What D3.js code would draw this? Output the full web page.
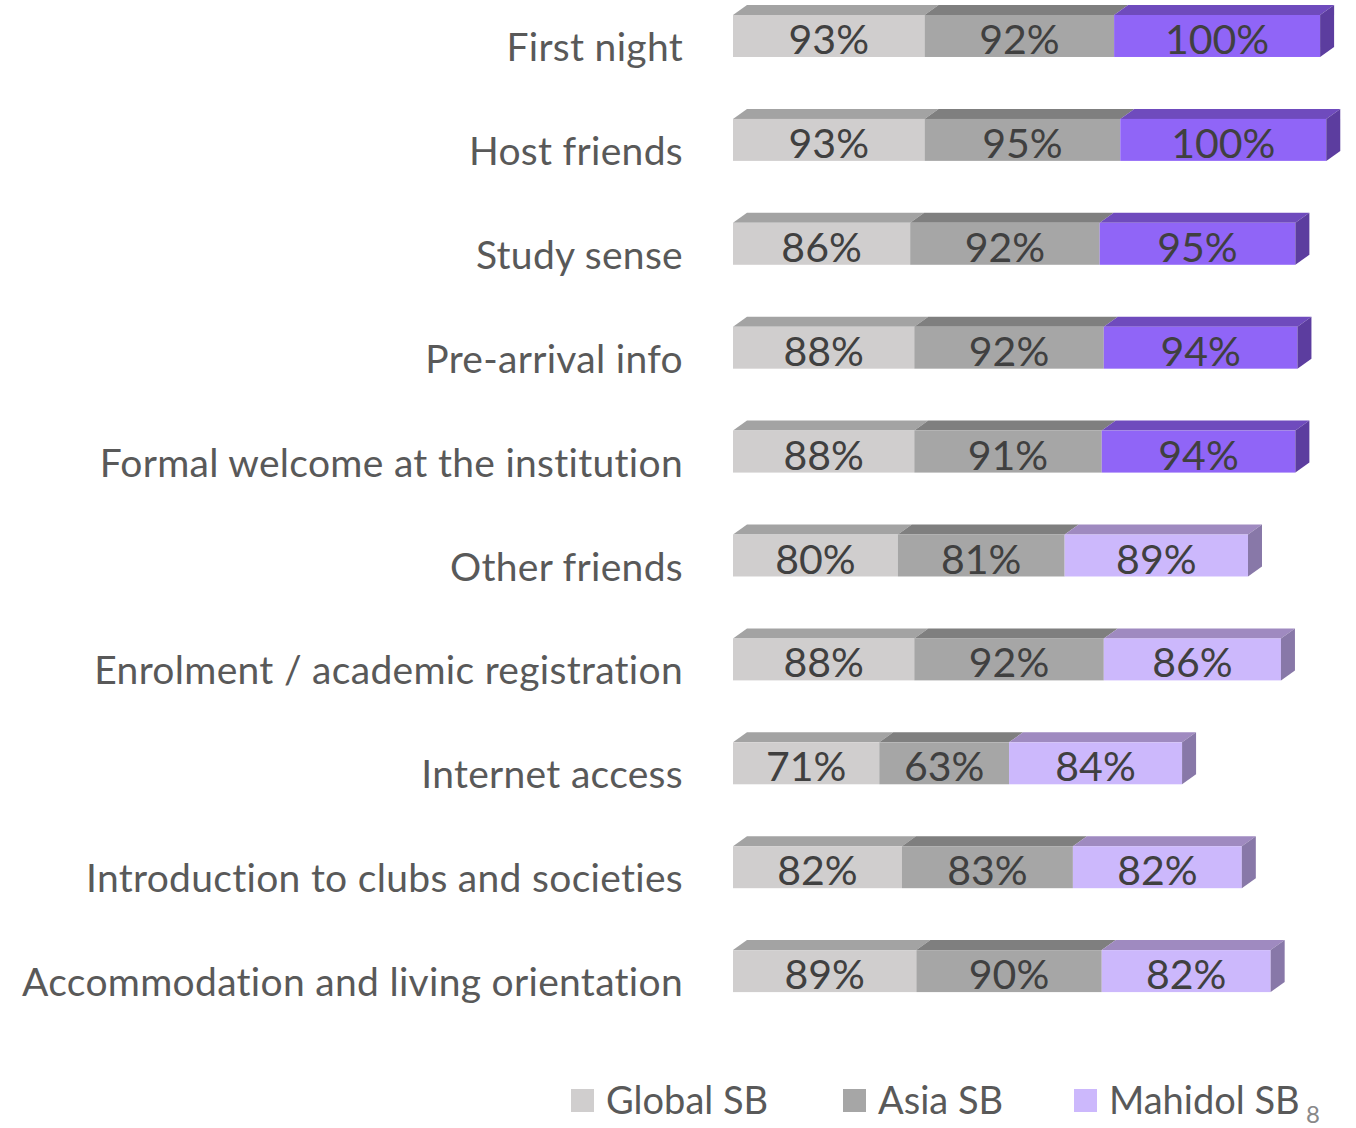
<!DOCTYPE html>
<html>
<head>
<meta charset="utf-8">
<script src="https://cdn.jsdelivr.net/npm/d3@7"></script>
<style>
  body { margin: 0; background: #fff; }
  svg { display: block; font-family: Lato, "Open Sans", sans-serif; }
</style>
</head>
<body>
<svg id="chart" width="1356" height="1128"></svg>
<script>
const categories = [
    'First night', 'Host friends', 'Study sense', 'Pre-arrival info',
    'Formal welcome at the institution', 'Other friends',
    'Enrolment / academic registration', 'Internet access',
    'Introduction to clubs and societies', 'Accommodation and living orientation'
];
const seriesNames = ['Global SB', 'Asia SB', 'Mahidol SB'];
const globalSB = [93, 93, 86, 88, 88, 80, 88, 71, 82, 89];
const asiaSB = [92, 95, 92, 92, 91, 81, 92, 63, 83, 90];
const mahidolSB = [100, 100, 95, 94, 94, 89, 86, 84, 82, 82];
const highlighted = ['First night', 'Host friends', 'Study sense', 'Pre-arrival info',
    'Formal welcome at the institution'];
const slideNumber = '8';

const svg = d3.select('#chart');

const rows = categories.map((c, i) => ({
    category: c,
    values: [globalSB[i], asiaSB[i], mahidolSB[i]]
}));

const stack = d3.stack().keys([0, 1, 2]).value((d, k) => d.values[k]);
const stacked = stack(rows);

const x = d3.scaleLinear()
    .domain([0, 100])
    .range([733, 939]);

const y = d3.scaleBand()
    .domain(categories)
    .range([15, 15 + 9 * 103.9 + 42])
    .paddingInner(0.596)
    .paddingOuter(0);

const dx = 14, dy = 10;

// front, top, side colours per series (plain / highlighted)
const palette = [
    { front: '#d0cece', top: '#a3a3a3', side: '#9a9a9a' },
    { front: '#a6a6a6', top: '#7f7f7f', side: '#6f6f6f' },
    { front: '#ccb8fc', top: '#9f8ac0', side: '#8878a8' }
];
const hiPalette = { front: '#9065f7', top: '#6f4bbd', side: '#5c3d9f' };

const colourFor = (k, cat) => (k === 2 && highlighted.includes(cat)) ? hiPalette : palette[k];

//------------------------------------------------------------------------------
const bars = svg.append('g');

stacked.forEach(function (layer, k) {
    layer.forEach(function (seg) {
        const cat = seg.data.category;
        const c = colourFor(k, cat);
        const x0 = x(seg[0]), x1 = x(seg[1]);
        const yt = y(cat), yb = yt + y.bandwidth();

        bars.append('path')
            .attr('d', `M${x0},${yt}L${x1},${yt}L${x1 + dx},${yt - dy}L${x0 + dx},${yt - dy}Z`)
            .attr('fill', c.top);

        bars.append('rect')
            .attr('x', x0)
            .attr('y', yt)
            .attr('width', x1 - x0)
            .attr('height', y.bandwidth())
            .attr('fill', c.front);

        if (k === 2) {
            bars.append('path')
                .attr('d', `M${x1},${yt}L${x1 + dx},${yt - dy}L${x1 + dx},${yb - dy}L${x1},${yb}Z`)
                .attr('fill', c.side);
        }

        bars.append('text')
            .attr('x', (x0 + x1) / 2)
            .attr('y', yt + 39)
            .attr('text-anchor', 'middle')
            .attr('font-size', 41)
            .attr('fill', '#404040')
            .text(seg.data.values[k] + '%');
    });
});

// category labels
svg.append('g')
    .selectAll('text')
    .data(categories)
    .join('text')
    .attr('x', 683)
    .attr('y', d => y(d) + 46)
    .attr('text-anchor', 'end')
    .attr('font-size', 39)
    .attr('letter-spacing', 0.3)
    .attr('fill', '#595959')
    .text(d => d);

// legend
const legendX = [571, 843, 1074];
const legend = svg.append('g');
seriesNames.forEach(function (name, k) {
    legend.append('rect')
        .attr('x', legendX[k])
        .attr('y', 1089)
        .attr('width', 23)
        .attr('height', 23)
        .attr('fill', palette[k].front);
    legend.append('text')
        .attr('x', legendX[k] + 35)
        .attr('y', 1114)
        .attr('font-size', 38)
        .attr('fill', '#595959')
        .text(name);
});

svg.append('text')
    .attr('x', 1313)
    .attr('y', 1123)
    .attr('text-anchor', 'middle')
    .attr('font-size', 24)
    .attr('fill', '#888888')
    .text(slideNumber);
</script>
</body>
</html>
